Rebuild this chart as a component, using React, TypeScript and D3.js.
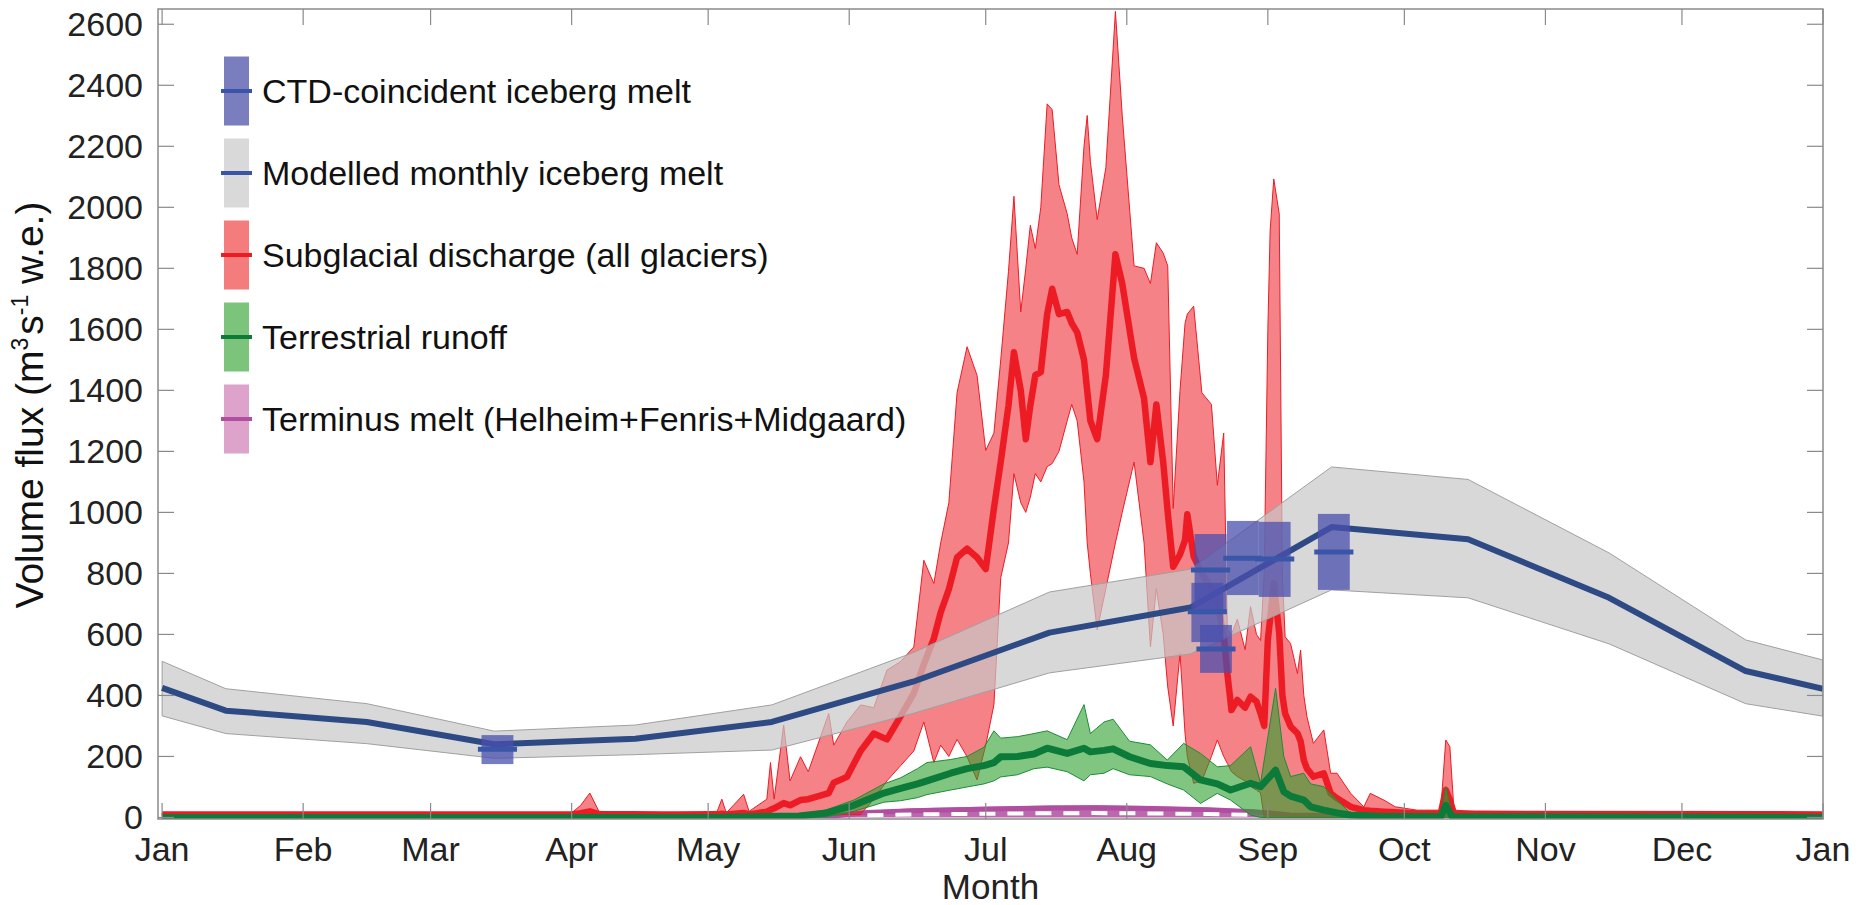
import * as d3 from "d3";

// day-of-year (0 = 1 Jan), low, median, high  (m3 s-1)
const subglacial = [
  [0, 5, 10, 15], [30, 5, 10, 15], [60, 5, 10, 15], [90, 5, 10, 15],
  [92, 6, 14, 40], [94, 8, 20, 80], [96, 5, 11, 20], [110, 5, 10, 15],
  [122, 5, 10, 20], [123, 5, 12, 60], [124, 5, 10, 15], [127.8, 5, 15, 76],
  [129, 5, 10, 20], [132.9, 5, 19, 60], [133.7, 5, 25, 180], [134.5, 5, 30, 60],
  [136.6, 5, 47, 303], [138, 5, 40, 120], [140.3, 5, 57, 199], [142, 5, 60, 150],
  [146.5, 8, 80, 341], [147.6, 8, 114, 237], [150.5, 10, 133, 313], [153.5, 10, 218, 369],
  [156.4, 60, 275, 360], [159.3, 120, 256, 483], [162.3, 170, 332, 511], [165.2, 218, 407, 559],
  [167.4, 313, 502, 843], [169.6, 180, 587, 767], [171.1, 237, 672, 900], [172.9, 200, 748, 1032],
  [174.7, 256, 852, 1392], [176.9, 199, 881, 1543], [179.1, 123, 852, 1449], [181, 237, 814, 1203],
  [182.8, 369, 1013, 1260], [184.3, 786, 1165, 1500], [186, 900, 1350, 1790], [187.2, 1127, 1525, 2036],
  [188.7, 1032, 1400, 1657], [189.8, 1000, 1240, 1800], [190.8, 1050, 1350, 1941], [191.9, 1127, 1450, 1865],
  [193.1, 1100, 1460, 2000], [194.5, 1150, 1650, 2339], [195.6, 1160, 1733, 2320], [197.1, 1200, 1650, 2074],
  [198.9, 1300, 1657, 1979], [199.9, 1354, 1620, 1900], [201.1, 1300, 1590, 1846], [202.6, 1100, 1500, 2200],
  [203.3, 900, 1400, 2301], [204, 800, 1300, 2150], [205.5, 615, 1240, 1960], [207.4, 750, 1449, 2130],
  [209.5, 900, 1846, 2642], [211, 1000, 1750, 2301], [213.6, 1165, 1506, 1808], [215.8, 900, 1373, 1800],
  [217.2, 559, 1165, 1750], [218.5, 750, 1354, 1884], [220, 600, 1165, 1850], [221, 428, 1000, 1808],
  [222.2, 300, 822, 1013], [223.7, 538, 862, 1400], [224.8, 276, 909, 1619], [225.3, 200, 994, 1650],
  [226.7, 112, 855, 1676], [228.5, 120, 800, 1392], [230.6, 200, 750, 1354], [231.9, 254, 700, 1089],
  [233.3, 200, 600, 1260], [234.1, 177, 472, 615], [235, 150, 352, 600], [236.3, 134, 385, 650],
  [238, 120, 360, 550], [239.2, 101, 396, 691], [240.5, 90, 380, 600], [241.4, 80, 341, 580],
  [242.2, 0, 300, 800], [243, 0, 582, 1600], [243.5, 0, 650, 1922], [244.3, 0, 767, 2093],
  [245.5, 0, 604, 1979], [246.2, 0, 400, 786], [246.8, 0, 341, 592], [248, 0, 298, 570],
  [249.5, 0, 276, 472], [250.2, 0, 250, 549], [250.9, 0, 188, 400], [251.6, 0, 160, 330],
  [253, 0, 134, 243], [255.3, 0, 145, 287], [256.8, 0, 79, 145], [258.2, 0, 63, 145],
  [261.2, 0, 35, 79], [264.1, 0, 24, 35], [265.5, 0, 22, 79], [268.5, 0, 19, 57],
  [271, 0, 17, 35], [275.8, 0, 13, 24], [281, 0, 13, 24], [282.1, 0, 90, 254],
  [283, 0, 57, 232], [283.9, 0, 13, 24], [290, 5, 12, 18], [365, 5, 10, 15],
];

const runoff = [
  [0, 0, 0, 2], [120, 0, 0, 2], [140, 0, 5, 10], [146, 2, 15, 25],
  [152, 20, 40, 57], [158.6, 50, 80, 110], [162.3, 55, 95, 130], [166, 65, 110, 160],
  [168.1, 75, 120, 180], [173.3, 90, 145, 190], [176.9, 100, 160, 200], [180.6, 110, 170, 230],
  [182.8, 120, 180, 284], [184.3, 133, 199, 260], [188, 140, 200, 265], [191.6, 160, 208, 275],
  [194.5, 165, 227, 284], [198.9, 150, 210, 255], [202.6, 120, 227, 370], [204, 140, 215, 275],
  [207, 145, 220, 313], [209, 160, 225, 322], [212.6, 140, 199, 250], [217.2, 134, 177, 238],
  [220.9, 110, 170, 188], [224.5, 90, 166, 243], [228.2, 46, 123, 210], [231.9, 79, 110, 166],
  [234.8, 57, 90, 170], [239.2, 8, 112, 232], [241.4, 0, 101, 112], [244.7, 0, 155, 423],
  [246.5, 0, 85, 200], [248, 0, 70, 134], [250.9, 0, 57, 145], [252.4, 0, 35, 110],
  [255.3, 0, 24, 101], [258.2, 0, 15, 57], [261.2, 0, 8, 13], [268.5, 0, 3, 6],
  [281, 0, 3, 5], [282.1, 0, 40, 101], [283.5, 0, 3, 8], [365, 0, 0, 2],
];

// terminus melt: day, low, median, high
const terminus = [
  [0, 0, 6, 8], [148, 0, 6, 8], [155, 0, 16, 22], [165, 0, 22, 30],
  [180, 0, 27, 35], [195, 0, 31, 39], [205, 0, 32, 40], [215, 0, 30, 38],
  [230, 0, 25, 32], [240, 0, 19, 25], [248, 0, 8, 12], [365, 0, 6, 8],
];

// modelled monthly iceberg melt
const modelDays = [0, 14, 45, 73, 104, 134, 165, 195, 226, 257, 287, 318, 348, 365];
const modelMid = [425, 350, 313, 240, 258, 313, 445, 606, 688, 952, 912, 720, 480, 422];
const modelLow = [333, 275, 242, 194, 206, 221, 341, 474, 536, 746, 720, 569, 373, 332];
const modelHigh = [512, 422, 373, 283, 303, 369, 540, 739, 814, 1149, 1108, 867, 582, 516];

// CTD-coincident iceberg melt: day, low, median, high
const ctdMelt = [
  [73.7, 175, 224, 270],
  [230.4, 680, 811, 929],
  [229.7, 575, 674, 769],
  [231.6, 474, 552, 631],
  [237.5, 729, 850, 972],
  [244.5, 723, 847, 969],
  [257.5, 746, 870, 995],
];

const yTickValues = [0, 200, 400, 600, 800, 1000, 1200, 1400, 1600, 1800, 2000, 2200, 2400, 2600];

const legendItems = [
  { label: "CTD-coincident iceberg melt", patch: "#7a7ebf", line: "#3a55a5" },
  { label: "Modelled monthly iceberg melt", patch: "#d9d9d9", line: "#3a55a5" },
  { label: "Subglacial discharge (all glaciers)", patch: "#f47c7c", line: "#ed1c24" },
  { label: "Terrestrial runoff", patch: "#7cc37c", line: "#0c7b3a" },
  { label: "Terminus melt (Helheim+Fenris+Midgaard)", patch: "#dda3cb", line: "#b04ea0" },
];

const YEAR0 = Date.UTC(2015, 0, 1);
const toDate = (d: number) => new Date(YEAR0 + d * 864e5);

const W = 1858;
const H = 905;
const left = 158, right = 1823, top = 9, bottom = 819;
const font = "'Liberation Sans', Arial, Helvetica, sans-serif";

export default function App() {
  const x = d3.scaleUtc().domain([toDate(-0.9), toDate(365)]).range([left, right]);
  const y = d3.scaleLinear().domain([-5, 2650]).range([bottom, top]);
  const months = x.ticks(d3.utcMonth.every(1)!);
  const fmt = d3.utcFormat("%b");

  const band = d3
    .area<number[]>()
    .x((d) => x(toDate(d[0])))
    .y0((d) => y(d[1]))
    .y1((d) => y(d[3]));
  const mid = d3
    .line<number[]>()
    .x((d) => x(toDate(d[0])))
    .y((d) => y(d[2]));
  const lowLine = d3
    .line<number[]>()
    .x((d) => x(toDate(d[0])))
    .y((d) => y(d[2] * 0.45));

  const model = modelDays.map((d, i) => [d, modelLow[i], modelMid[i], modelHigh[i]]);
  const tick = 16;
  const boxW = 7;
  const barW = 8.6;
  const dayPx = (n: number) => x(toDate(n)) - x(toDate(0));

  return (
    <svg
      width={W}
      height={H}
      style={{ position: "absolute", left: 0, top: 0, background: "#fff" }}
      fontFamily={font}
    >
      <defs>
        <clipPath id="plot">
          <rect x={left} y={top} width={right - left} height={bottom - top} />
        </clipPath>
      </defs>

      <g clipPath="url(#plot)">
        {/* terminus melt */}
        <path d={band(terminus)!} fill="#b04ea0" fillOpacity={0.85} />
        <path d={mid(terminus)!} fill="none" stroke="#b04ea0" strokeWidth={5} />
        <path
          d={lowLine(terminus.slice(2, -2))!}
          fill="none"
          stroke="#fff"
          strokeWidth={4}
          strokeDasharray="16,12"
        />

        {/* subglacial discharge */}
        <path d={band(subglacial)!} fill="#ed1c24" fillOpacity={0.55} stroke="#ed1c24" strokeWidth={1} />
        <path d={mid(subglacial)!} fill="none" stroke="#ed1c24" strokeWidth={6.5} strokeLinejoin="round" />

        {/* terrestrial runoff */}
        <path d={band(runoff)!} fill="#2ca02c" fillOpacity={0.6} stroke="#1e8c3a" strokeWidth={1} />
        <path d={mid(runoff)!} fill="none" stroke="#0c7b3a" strokeWidth={7} strokeLinejoin="round" />

        {/* modelled monthly iceberg melt */}
        <path d={band(model)!} fill="#c8c8c8" fillOpacity={0.7} stroke="#a0a0a0" strokeWidth={1} />
        <path d={mid(model)!} fill="none" stroke="#2e4a84" strokeWidth={6} strokeLinejoin="round" />

        {/* CTD-coincident iceberg melt */}
        {ctdMelt.map((d, i) => (
          <rect
            key={"b" + i}
            x={x(toDate(d[0])) - dayPx(boxW) / 2}
            y={y(d[3])}
            width={dayPx(boxW)}
            height={y(d[1]) - y(d[3])}
            fill="#4a4fae"
            fillOpacity={0.75}
          />
        ))}
        {ctdMelt.map((d, i) => (
          <line
            key={"m" + i}
            x1={x(toDate(d[0])) - dayPx(barW) / 2}
            x2={x(toDate(d[0])) + dayPx(barW) / 2}
            y1={y(d[2])}
            y2={y(d[2])}
            stroke="#3a56a8"
            strokeWidth={5}
          />
        ))}
      </g>

      {/* axes box */}
      <rect x={left} y={top} width={right - left} height={bottom - top} fill="none" stroke="#8a8a8a" strokeWidth={1.5} />

      {yTickValues.map((v) => (
        <g key={v}>
          <line x1={left} x2={left + tick} y1={y(v)} y2={y(v)} stroke="#8a8a8a" strokeWidth={1.2} />
          <line x1={right} x2={right - tick} y1={y(v)} y2={y(v)} stroke="#8a8a8a" strokeWidth={1.2} />
          <text x={left - 15} y={y(v)} dy="0.35em" textAnchor="end" fontSize={34} fill="#222">
            {v}
          </text>
        </g>
      ))}

      {months.map((m, i) => (
        <g key={i}>
          <line x1={x(m)} x2={x(m)} y1={bottom} y2={bottom - tick} stroke="#8a8a8a" strokeWidth={1.2} />
          <line x1={x(m)} x2={x(m)} y1={top} y2={top + tick} stroke="#8a8a8a" strokeWidth={1.2} />
          <text x={x(m)} y={861} textAnchor="middle" fontSize={34} fill="#222">
            {fmt(m)}
          </text>
        </g>
      ))}

      <text x={(left + right) / 2} y={899} textAnchor="middle" fontSize={35} fill="#222">
        Month
      </text>

      <text
        transform={`translate(43, 405) rotate(-90)`}
        textAnchor="middle"
        fontSize={39}
        fill="#111"
      >
        Volume flux (m
        <tspan fontSize={23} dy={-15}>3</tspan>
        <tspan dy={15} dx={3}>s</tspan>
        <tspan fontSize={23} dy={-15}>-1</tspan>
        <tspan dy={15}> w.e.)</tspan>
      </text>

      {/* legend */}
      {legendItems.map((it, i) => {
        const cy = 91 + i * 82;
        return (
          <g key={it.label}>
            <rect x={224} y={cy - 34.5} width={25} height={69} fill={it.patch} />
            <line x1={221} x2={252} y1={cy} y2={cy} stroke={it.line} strokeWidth={4} />
            <text x={262} y={cy} dy="0.36em" fontSize={34} fill="#111">
              {it.label}
            </text>
          </g>
        );
      })}
    </svg>
  );
}
